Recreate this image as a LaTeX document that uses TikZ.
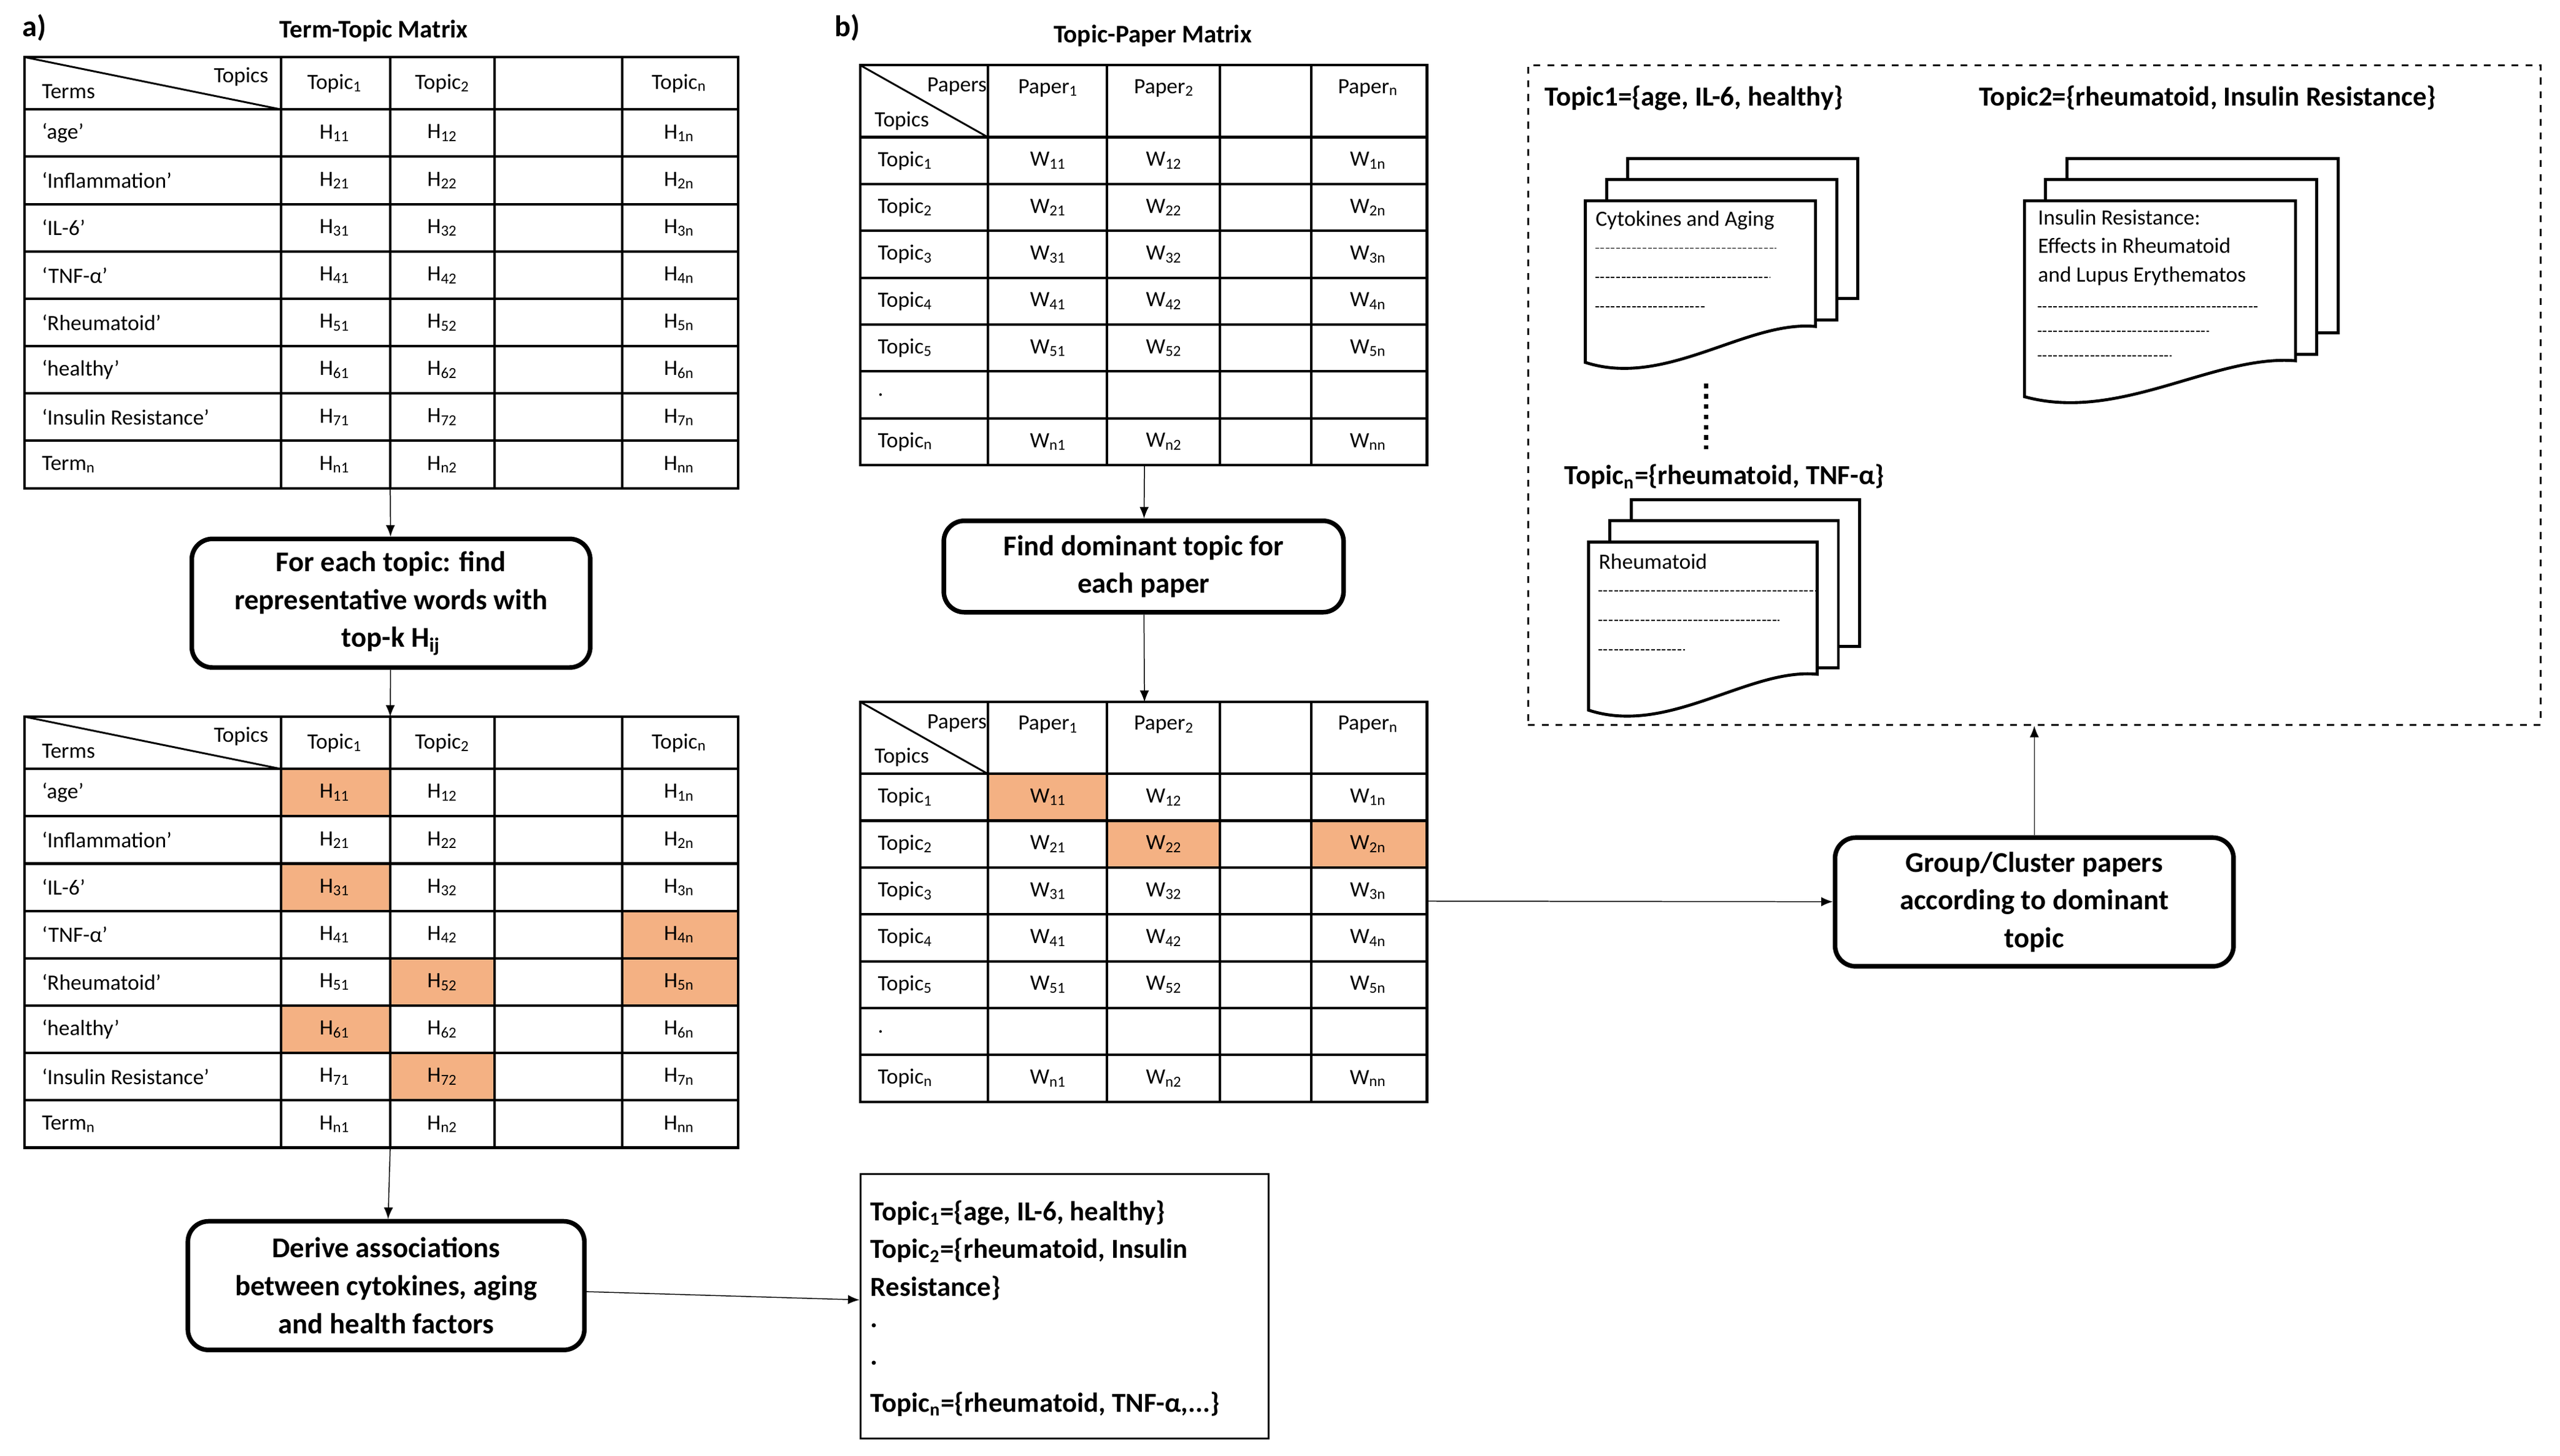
\documentclass[tikz,border=0pt]{standalone}
\usepackage{fontspec}
\setmainfont{Carlito}
\usetikzlibrary{arrows.meta,positioning}

\definecolor{hlorange}{RGB}{244,177,131}
\newcommand{\sbs}[1]{\textsubscript{#1}}
\newcommand{\tabfont}{\fontsize{9.5}{11}\selectfont}
\newcommand{\stepfont}{\fontsize{12.5}{16.5}\selectfont\bfseries}
\newcommand{\docfont}{\fontsize{9.5}{12.5}\selectfont}

\tikzset{
  cell/.style={font=\tabfont, inner sep=1pt},
  grid/.style={line width=1.1pt},
  hl/.style={fill=hlorange},
  procstep/.style={draw, line width=2pt, rounded corners=9pt, align=center, font=\stepfont},
  page/.style={draw, fill=white, line width=1.3pt},
  fill in/.style={line width=0.5pt, dash pattern=on 1.6pt off 0.7pt},
  title/.style={font=\fontsize{11}{13}\selectfont\bfseries},
  topicset/.style={font=\fontsize{12}{14}\selectfont\bfseries, anchor=west, inner sep=0pt},
}

% stack of three pages: x, y (top left of front page), width, height
\newcommand{\docstack}[4]{%
  \foreach \k in {2,1}
    \draw[page] ({#1+13*\k},{#2-13*\k}) rectangle ({#1+#3+13*\k},{#2+#4-13-13*\k});
  \draw[page] (#1,#2) -- ({#1+#3},#2) -- ({#1+#3},{#2+#4-22})
    .. controls ({#1+0.7*#3},{#2+#4-26}) and ({#1+0.35*#3},{#2+#4+16}) .. (#1,{#2+#4}) -- cycle;
}

\begin{document}
\begin{tikzpicture}[x=0.025cm, y=-0.025cm, >={Latex[length=5pt,width=4pt]}]
    \useasboundingbox (0,0) rectangle (1568,891.5);

    % Labels
    \node[font=\fontsize{13}{15}\selectfont\bfseries] (la) at (21,17) {a)};
    \node[title] (tta-title) at (229,19) {Term-Topic Matrix};
    \node[font=\fontsize{13}{15}\selectfont\bfseries] (lb) at (519,17) {b)};
    \node[title] (ttb-title) at (706,22) {Topic-Paper Matrix};

    % highlights of bottom term-topic matrix
    \foreach \r/\xa/\xb in {1/172/239, 3/172/239, 6/172/239, 4/381/452, 5/381/452, 5/239/303, 7/239/303}
      \fill[hl] (\xa,{471+(\r-1)*29}) rectangle (\xb,{471+\r*29});

    % Term-topic matrices (top and bottom)
    \foreach \tab/\yo in {tta/35, ttc/439} {
      \draw[grid] (15,\yo) rectangle (452,{\yo+264});
      \foreach \x in {172,239,303,381}
        \draw[grid] (\x,\yo) -- (\x,{\yo+264});
      \foreach \r in {0,...,7}
        \draw[grid] (15,{\yo+32+\r*29}) -- (452,{\yo+32+\r*29});
      \draw[line width=0.8pt] (15,\yo) -- (172,{\yo+32});
      \node[cell, anchor=east] (\tab-topics) at (166,{\yo+12}) {Topics};
      \node[cell, anchor=west] (\tab-terms) at (24,{\yo+21}) {Terms};
      \node[cell] (\tab-h1) at (205,{\yo+16}) {Topic\sbs{1}};
      \node[cell] (\tab-h2) at (271,{\yo+16}) {Topic\sbs{2}};
      \node[cell] (\tab-hn) at (416,{\yo+16}) {Topic\sbs{n}};
      \foreach \lab/\i [count=\r] in {‘age’/1, ‘Inflammation’/2, ‘IL-6’/3, ‘TNF-α’/4,
          ‘Rheumatoid’/5, ‘healthy’/6, ‘Insulin Resistance’/7, Term\sbs{n}/n} {
        \node[cell, anchor=west] (\tab-\r-0) at (24,{\yo+32+(\r-0.5)*29}) {\lab};
        \node[cell] (\tab-\r-1) at (205,{\yo+32+(\r-0.5)*29}) {H\sbs{\i1}};
        \node[cell] (\tab-\r-2) at (271,{\yo+32+(\r-0.5)*29}) {H\sbs{\i2}};
        \node[cell] (\tab-\r-n) at (416,{\yo+32+(\r-0.5)*29}) {H\sbs{\i n}};
      }
      \coordinate (\tab-top) at (239,\yo);
      \coordinate (\tab-bot) at (239,{\yo+264});
    }

    % highlights of bottom topic-paper matrix
    \foreach \r/\xa/\xb in {1/605/678, 2/678/747, 2/803/874}
      \fill[hl] (\xa,{474+(\r-1)*28.7}) rectangle (\xb,{474+\r*28.7});

    % Topic-paper matrices
    \foreach \tab/\yo in {tpa/40, tpc/430} {
      \draw[grid] (527,\yo) rectangle (874,{\yo+245});
      \foreach \x in {605,678,747,803}
        \draw[grid] (\x,\yo) -- (\x,{\yo+245});
      \foreach \r in {0,...,6}
        \draw[grid] (527,{\yo+44+\r*28.7}) -- (874,{\yo+44+\r*28.7});
      \draw[line width=0.8pt] (527,\yo) -- (605,{\yo+44});
      \node[cell, anchor=east] (\tab-papers) at (606,{\yo+13}) {Papers};
      \node[cell, anchor=west] (\tab-topics) at (534,{\yo+34}) {Topics};
      \node[cell] (\tab-h1) at (642,{\yo+14}) {Paper\sbs{1}};
      \node[cell] (\tab-h2) at (713,{\yo+14}) {Paper\sbs{2}};
      \node[cell] (\tab-hn) at (838,{\yo+14}) {Paper\sbs{n}};
      \foreach \lab/\i [count=\r] in {1/1, 2/2, 3/3, 4/4, 5/5, n/n} {
        \pgfmathsetmacro{\rr}{\r<6 ? \r : 7}
        \node[cell, anchor=west] (\tab-\r-0) at (536,{\yo+44+(\rr-0.5)*28.7}) {Topic\sbs{\lab}};
        \node[cell] (\tab-\r-1) at (642,{\yo+44+(\rr-0.5)*28.7}) {W\sbs{\i1}};
        \node[cell] (\tab-\r-2) at (713,{\yo+44+(\rr-0.5)*28.7}) {W\sbs{\i2}};
        \node[cell] (\tab-\r-n) at (838,{\yo+44+(\rr-0.5)*28.7}) {W\sbs{\i n}};
      }
      \node[cell, anchor=west] (\tab-dot) at (536,{\yo+44+5.5*28.7}) {.};
      \coordinate (\tab-top) at (701,\yo);
      \coordinate (\tab-bot) at (701,{\yo+245});
    }
    \coordinate (tpc-east) at (874,552);

    % Processing steps
    \node[procstep, minimum width=6.1cm, minimum height=1.97cm] (findwords) at (239.5,369.5)
      {For each topic: find\\representative words with\\top-k H\sbs{ij}};
    \node[procstep, minimum width=6.07cm, minimum height=1.97cm] (derive) at (236.5,787.5)
      {Derive associations\\between cytokines, aging\\and health factors};
    \node[procstep, minimum width=6.12cm, minimum height=1.4cm] (dominant) at (700.5,347)
      {Find dominant topic for\\each paper};
    \node[procstep, minimum width=6.1cm, minimum height=1.97cm] (cluster) at (1246,552.5)
      {Group/Cluster papers\\according to dominant\\topic};

    % Resulting topics
    \node[draw, line width=0.8pt, minimum width=6.25cm, minimum height=4.05cm] (result) at (652,800) {};
    \node[topicset] (res1) at (533,743) {Topic\sbs{1}=\{age, IL-6, healthy\}};
    \node[topicset] (res2) at (533,766) {Topic\sbs{2}=\{rheumatoid, Insulin};
    \node[topicset] (res3) at (533,789) {Resistance\}};
    \node[topicset] (res4) at (533,812) {.};
    \node[topicset] (res5) at (533,835) {.};
    \node[topicset] (res6) at (533,860) {Topic\sbs{n}=\{rheumatoid, TNF-α,...\}};

    % Clustered papers
    \node[draw, dashed, line width=0.8pt, minimum width=15.5cm, minimum height=10.1cm] (clusters) at (1246,242) {};
    \node[topicset] (set1) at (946,60) {Topic1=\{age, IL-6, healthy\}};
    \node[topicset] (set2) at (1212,60) {Topic2=\{rheumatoid, Insulin Resistance\}};
    \node[topicset] (setn) at (958,292) {Topic\sbs{n}=\{rheumatoid, TNF-α\}};

    \docstack{971}{123}{141}{99}
    \node[font=\docfont, anchor=west, inner sep=0pt] (doc1) at (977,135) {Cytokines and Aging};
    \foreach \y/\xe in {152/1088, 170/1084, 188/1044}
      \draw[fill in] (977,\y) -- (\xe,\y);

    \docstack{1240}{123}{166}{120}
    \node[font=\docfont, anchor=north west, align=left, inner sep=0pt] (doc2) at (1248,128) {Insulin Resistance:\\Effects in Rheumatoid\\and Lupus Erythematos};
    \foreach \y/\xe in {188/1383, 203/1353, 218/1330}
      \draw[fill in] (1248,\y) -- (\xe,\y);

    \docstack{973}{332}{140}{103}
    \node[font=\docfont, anchor=west, inner sep=0pt] (docn) at (979,344) {Rheumatoid};
    \foreach \y/\xe in {362/1112, 380/1090, 398/1032}
      \draw[fill in] (979,\y) -- (\xe,\y);

    \draw[line width=2pt, dash pattern=on 2pt off 2.5pt] (1045,235) -- (1045,275);

    % Connectors
    \draw[->] (tta-bot) -- (findwords);
    \draw[->] (findwords) -- (ttc-top);
    \draw[->] (ttc-bot) -- (derive);
    \draw[->] (derive) -- (result);
    \draw[->] (tpa-bot) -- (dominant);
    \draw[->] (dominant) -- (tpc-top);
    \draw[->] (tpc-east) -- (cluster);
    \draw[->] (cluster) -- (clusters);
\end{tikzpicture}
\end{document}
